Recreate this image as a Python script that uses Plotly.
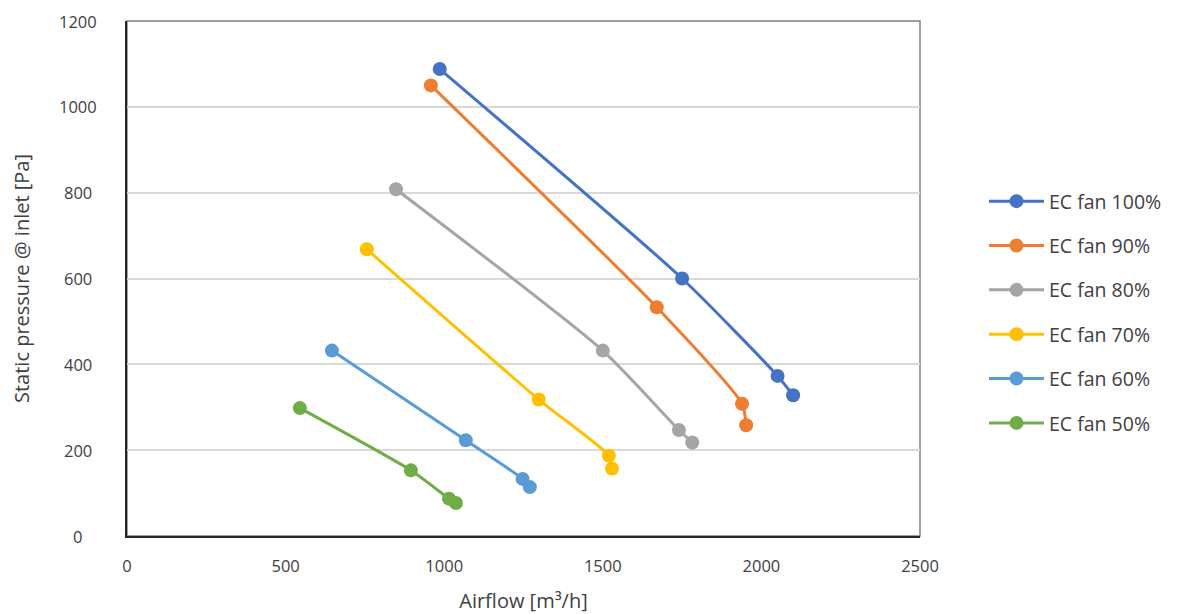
import plotly.graph_objects as go

series_names = ["EC fan 100%", "EC fan 90%", "EC fan 80%", "EC fan 70%", "EC fan 60%", "EC fan 50%"]
colors = ["#4472C4", "#ED7D31", "#A5A5A5", "#FFC000", "#5B9BD5", "#70AD47"]

x_100 = [986, 1750, 2051, 2100]
y_100 = [1088, 600, 373, 328]
x_90 = [958, 1670, 1939, 1952]
y_90 = [1050, 533, 308, 258]
x_80 = [848, 1500, 1740, 1782]
y_80 = [808, 432, 247, 218]
x_70 = [756, 1298, 1519, 1529]
y_70 = [668, 318, 187, 157]
x_60 = [646, 1068, 1247, 1270]
y_60 = [432, 223, 133, 114]
x_50 = [545, 895, 1015, 1037]
y_50 = [298, 153, 87, 77]

x_ticks = [0, 500, 1000, 1500, 2000, 2500]
y_ticks = [0, 200, 400, 600, 800, 1000, 1200]

xs = [x_100, x_90, x_80, x_70, x_60, x_50]
ys = [y_100, y_90, y_80, y_70, y_60, y_50]

font_family = "'Open Sans', Roboto, sans-serif"
text_color = "#404040"

fig = go.Figure()
for name, c, x, y in zip(series_names, colors, xs, ys):
    fig.add_trace(go.Scatter(
        x=x, y=y, name=name, mode="lines+markers",
        line=dict(color=c, width=3, shape="spline", smoothing=0.6),
        marker=dict(color=c, size=14),
        legendgroup=name,
    ))

# y tick labels centered (as in the reference)
annotations = [
    dict(x=-0.0618, y=v, xref="paper", yref="y", text=str(v), showarrow=False,
         xanchor="center", yanchor="middle", font=dict(size=16.5, color=text_color))
    for v in y_ticks
]

fig.update_layout(
    width=1184, height=614,
    margin=dict(l=127, r=264, t=21, b=78, autoexpand=False),
    paper_bgcolor="white", plot_bgcolor="white",
    font=dict(family=font_family, color=text_color, size=16),
    showlegend=True,
    legend=dict(
        x=1.0807, xanchor="left", y=0.434, yanchor="middle",
        font=dict(size=19.5, color=text_color),
        tracegroupgap=16, itemwidth=55,
        bgcolor="rgba(0,0,0,0)",
    ),
    xaxis=dict(
        range=[0, 2500], tickvals=x_ticks,
        showgrid=False, zeroline=False, automargin=False,
        showline=True, linecolor="#262626", linewidth=1.5,
        ticks="", ticklabelstandoff=14,
        tickfont=dict(size=16.5, color=text_color),
        title=dict(text="Airflow [m³/h]", font=dict(size=20, color=text_color), standoff=38),
    ),
    yaxis=dict(
        range=[0, 1200], tickvals=y_ticks,
        showgrid=True, gridcolor="#D9D9D9", gridwidth=1.5, zeroline=False, automargin=False,
        showline=True, linecolor="#262626", linewidth=1.5,
        ticks="", showticklabels=False,
        title=dict(text="Static pressure @ inlet [Pa]", font=dict(size=20, color=text_color), standoff=90),
    ),
    annotations=annotations,
    shapes=[dict(type="rect", xref="paper", yref="paper", x0=0, y0=0, x1=1, y1=1,
                 line=dict(color="#7F7F7F", width=1.5), layer="below")],
)

fig.write_html(
    "out.html",
    config={"displayModeBar": False},
    post_script="document.body.style.margin='0';document.body.style.overflow='hidden';",
)
